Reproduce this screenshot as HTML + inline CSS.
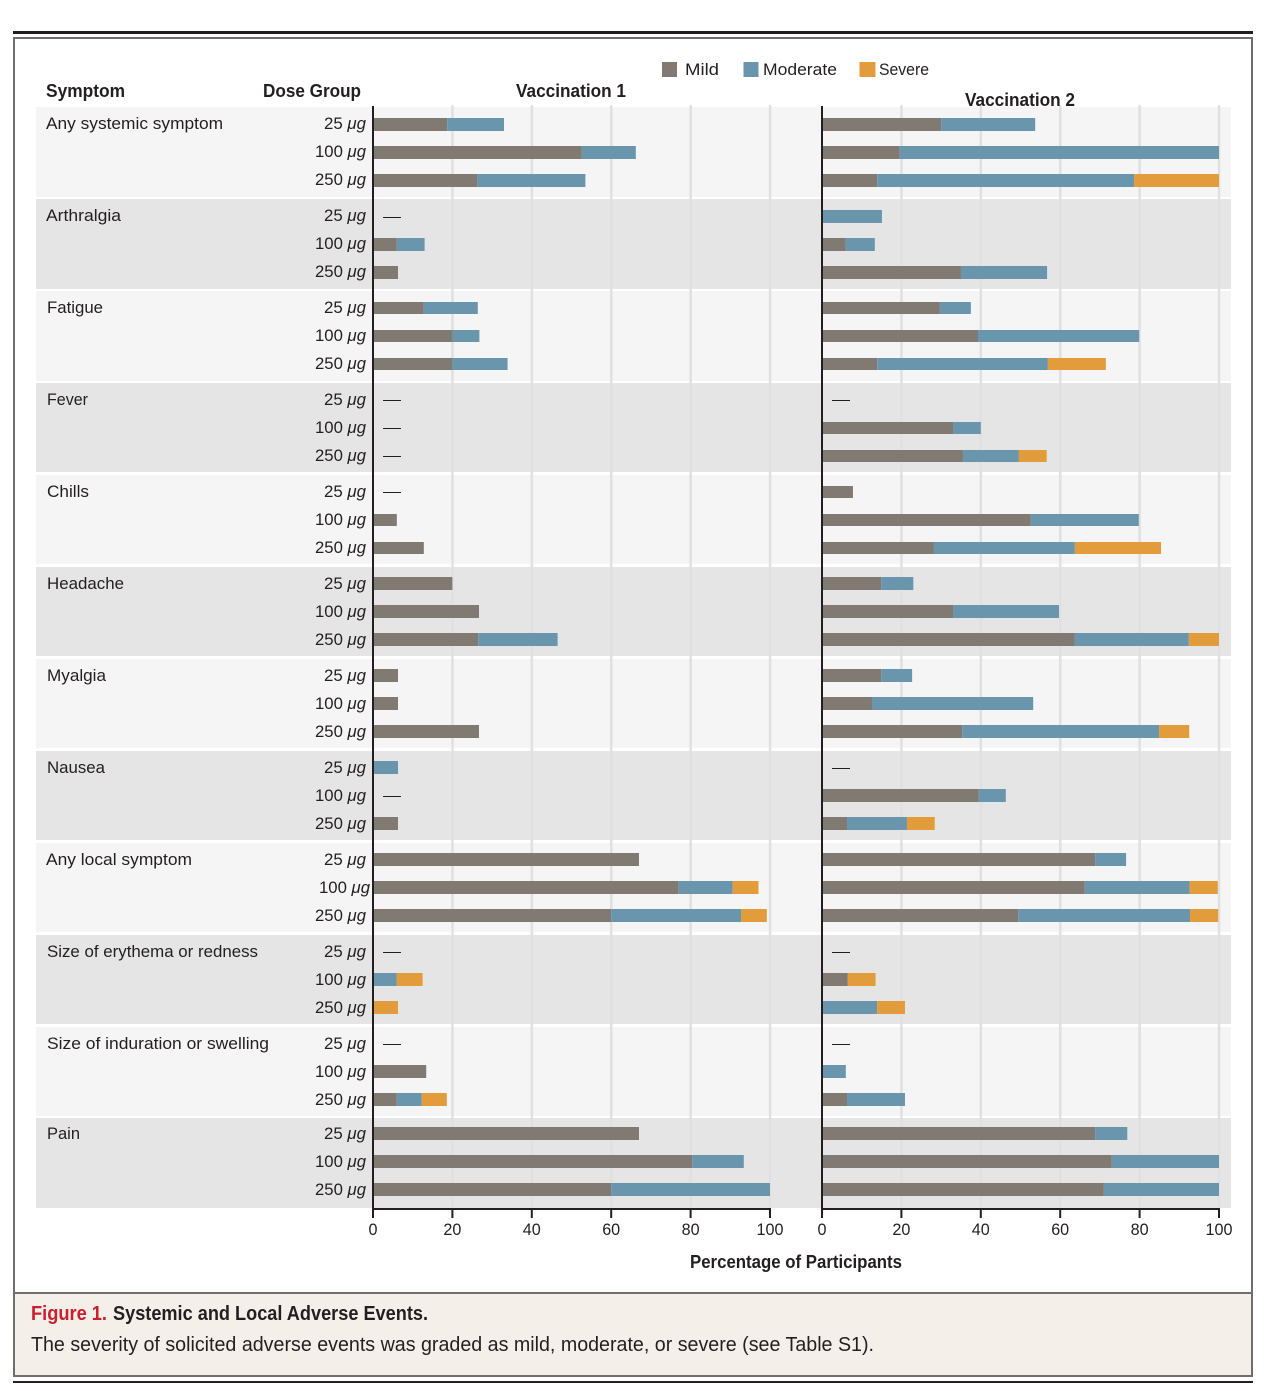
<!DOCTYPE html>
<html lang="en">
<head>
<meta charset="utf-8">
<title>Systemic and Local Adverse Events</title>
<style>
html,body{margin:0;padding:0;background:#fff;}
svg{display:block;}
text{font-family:"Liberation Sans",sans-serif;fill:#231f20;}
</style>
</head>
<body>
<svg id="chart" xmlns="http://www.w3.org/2000/svg" width="1278" height="1391" viewBox="0 0 1278 1391">
  <rect x="13" y="31" width="1240" height="3" fill="#231f20"/>
  <rect x="14" y="38" width="1238" height="1338" fill="#fff" stroke="#6e6e6e" stroke-width="2"/>
  <rect x="15" y="1292" width="1236" height="83" fill="#f4efe9"/>
  <rect x="14" y="1292" width="1238" height="2" fill="#6e6e6e"/>
  <rect x="13" y="1381" width="1240" height="2" fill="#231f20"/>

  <g id="bands"></g>
  <g id="grid"></g>
  <g id="bars"></g>
  <g id="axes"></g>
  <g id="labels"></g>

  <text x="46" y="97" font-size="18" font-weight="bold" textLength="79" lengthAdjust="spacingAndGlyphs">Symptom</text>
  <text x="263" y="97" font-size="18" font-weight="bold" textLength="98" lengthAdjust="spacingAndGlyphs">Dose Group</text>
  <text x="516" y="97" font-size="18" font-weight="bold" textLength="110" lengthAdjust="spacingAndGlyphs">Vaccination 1</text>
  <text x="965" y="106" font-size="18" font-weight="bold" textLength="110" lengthAdjust="spacingAndGlyphs">Vaccination 2</text>
  <text x="690" y="1268" font-size="18" font-weight="bold" textLength="212" lengthAdjust="spacingAndGlyphs">Percentage of Participants</text>

  <g>
    <rect x="662" y="62" width="15" height="15" fill="#807a72"/>
    <text x="685" y="75" font-size="17" textLength="34" lengthAdjust="spacingAndGlyphs">Mild</text>
    <rect x="743.500" y="62" width="15" height="15" fill="#6a96ad"/>
    <text x="763" y="75" font-size="17" textLength="74" lengthAdjust="spacingAndGlyphs">Moderate</text>
    <rect x="859.500" y="62" width="16" height="15" fill="#e39c3c"/>
    <text x="879" y="75" font-size="17" textLength="50" lengthAdjust="spacingAndGlyphs">Severe</text>
  </g>

  <text x="31" y="1320" font-size="20" font-weight="bold" style="fill:#c8202f" textLength="76" lengthAdjust="spacingAndGlyphs">Figure 1.</text>
  <text x="113" y="1320" font-size="20" font-weight="bold" textLength="315" lengthAdjust="spacingAndGlyphs">Systemic and Local Adverse Events.</text>
  <text x="31" y="1351" font-size="20" textLength="843" lengthAdjust="spacingAndGlyphs">The severity of solicited adverse events was graded as mild, moderate, or severe (see Table S1).</text>
</svg>

<script>
// ---- chart data (percentage of participants) ----
const symptoms = ["Any systemic symptom","Arthralgia","Fatigue","Fever","Chills","Headache","Myalgia","Nausea","Any local symptom","Size of erythema or redness","Size of induration or swelling","Pain"];
const doses = ["25","100","250"];
const xTicks = [0,20,40,60,80,100];

// Each array: three dose values per symptom, in symptom order.
const v1Mild = [18.7,52.6,26.3, 0,6,6.3, 12.8,20,20, 0,0,0, 0,6,12.8, 20,26.7,26.5, 6.3,6.3,26.7, 0,0,6.3, 67,77,60, 0,0,0, 0,13.4,6, 67,80.4,60];
const v1Moderate = [14.3,13.6,27.2, 0,7,0, 13.6,6.8,13.9, 0,0,0, 0,0,0, 0,0,20, 0,0,0, 6.3,0,0, 0,13.6,32.7, 0,6,0, 0,0,6.3, 0,13,40];
const v1Severe = [0,0,0, 0,0,0, 0,0,0, 0,0,0, 0,0,0, 0,0,0, 0,0,0, 0,0,0, 0,6.5,6.5, 0,6.5,6.3, 0,0,6.3, 0,0,0];
const v2Mild = [30,19.6,13.9, 0,6,35, 29.7,39.3,13.9, 0,33,35.5, 7.8,52.6,28.2, 14.9,33,63.7, 14.9,12.6,35.3, 0,39.5,6.3, 68.8,66.2,49.4, 0,6.5,0, 0,0,6.3, 68.8,73,71];
const v2Moderate = [23.7,80.4,64.7, 15.1,7.3,21.7, 7.8,40.6,43, 0,7,14.1, 0,27.2,35.5, 8.1,26.7,28.7, 7.8,40.6,49.6, 0,6.8,15.1, 7.8,26.4,43.3, 0,0,13.9, 0,6,14.6, 8.1,27,29];
const v2Severe = [0,0,21.4, 0,0,0, 0,0,14.6, 0,0,7, 0,0,21.7, 0,0,7.6, 0,0,7.6, 0,0,7, 0,7.1,7.1, 0,7,7, 0,0,0, 0,0,0];

// ---- layout ----
const SVGNS = "http://www.w3.org/2000/svg";
const labelWidths = [177,75,56,41,42,77,59,58,146,211,222,33];
const AXIS_V1 = 373, AXIS_V2 = 822, PX_PER_PCT = 3.97;
const COLORS = {mild:"#807a72", moderate:"#6a96ad", severe:"#e39c3c"};

function xScale(origin, v){ return origin + v * PX_PER_PCT; }
function rowCenter(g, r){
  const drift = g < 2 ? 0 : (g < 5 ? 0.5 : (g < 11 ? 1 : 3));
  return 124.5 + 92 * g + 28 * r - drift;
}
function baseline(g, r){ return 129 + 92 * g + 28 * r - (g === 11 ? 2 : 0); }
function bandTop(g){ return 107 + 92 * g - (g === 11 ? 1 : 0); }
function bandHeight(g){ return (g < 3 || g === 11) ? 90 : 89; }
function mk(tag, attrs, parent){
  const el = document.createElementNS(SVGNS, tag);
  for (const k in attrs) el.setAttribute(k, attrs[k]);
  parent.appendChild(el);
  return el;
}

const bandsG = document.getElementById("bands");
const gridG = document.getElementById("grid");
const barsG = document.getElementById("bars");
const axesG = document.getElementById("axes");
const labelsG = document.getElementById("labels");

// Bands
symptoms.forEach(function(s, g){
  const band = mk("rect", {x:36, y:bandTop(g), width:1195, height:bandHeight(g), fill: g % 2 ? "#e5e5e5" : "#f5f5f5"}, bandsG);
  
  
});

// Gridlines and axes for both panels
[AXIS_V1, AXIS_V2].forEach(function(origin){
  xTicks.forEach(function(t){
    const x = xScale(origin, t);
    if (t > 0) {
      const grid = mk("rect", {x:x - 1.2, y:105, width:2.5, height:1103, fill:"#e0e0e0"}, gridG);
      
      
    }
    const tick = mk("rect", {x:x - 1, y:1208, width:2, height:10, fill:"#231f20"}, axesG);
    
    
    const label = mk("text", {x:x, y:1235, "font-size":17, "text-anchor":"middle", textLength: t === 100 ? 27 : (t === 0 ? 9 : 18), lengthAdjust:"spacingAndGlyphs"}, axesG);
    label.textContent = t;
    
    
  });
  const yLine = mk("rect", {x:origin - 1, y:106, width:2, height:1103, fill:"#231f20"}, axesG);
  
  
  const xLine = mk("rect", {x:origin - 1, y:1208, width:PX_PER_PCT * 100 + 2, height:2, fill:"#231f20"}, axesG);
  
  
});

// Bars, drawn from the series arrays
function drawPanel(origin, mild, moderate, severe){
  symptoms.forEach(function(s, g){
    doses.forEach(function(d, r){
      const i = g * 3 + r;
      const cy = rowCenter(g, r);
      const top = Math.ceil(cy - 6.5);
      const bottom = Math.floor(cy + 6.5);
      const parts = [[mild[i], COLORS.mild], [moderate[i], COLORS.moderate], [severe[i], COLORS.severe]];
      let acc = 0;
      if (mild[i] + moderate[i] + severe[i] === 0) {
        const dash = mk("rect", {x:origin + 10, y:Math.ceil(cy), width:18, height:1, fill:"#231f20"}, barsG);
        
        
        return;
      }
      parts.forEach(function(p){
        if (p[0] > 0) {
          const bar = mk("rect", {x:xScale(origin, acc), y:top, width:p[0] * PX_PER_PCT, height:bottom - top, fill:p[1]}, barsG);
          
          
        }
        acc += p[0];
      });
    });
  });
}
drawPanel(AXIS_V1, v1Mild, v1Moderate, v1Severe);
drawPanel(AXIS_V2, v2Mild, v2Moderate, v2Severe);

// Row labels
symptoms.forEach(function(s, g){
  const name = mk("text", {x: (g === 0 || g === 1 || g === 8) ? 46 : 47, y:baseline(g, 0), "font-size":17, textLength:labelWidths[g], lengthAdjust:"spacingAndGlyphs"}, labelsG);
  name.textContent = s;
  
  
  doses.forEach(function(d, r){
    const right = (g === 8 && r === 1) ? 370 : 366;
    const lab = mk("text", {x:right, y:baseline(g, r), "font-size":17, "text-anchor":"end", textLength: d.length === 2 ? 42 : 51, lengthAdjust:"spacingAndGlyphs"}, labelsG);
    lab.textContent = d + " ";
    const unit = mk("tspan", {"font-style":"italic"}, lab);
    unit.textContent = "\u03BCg";
    
    
  });
});
</script>
</body>
</html>
